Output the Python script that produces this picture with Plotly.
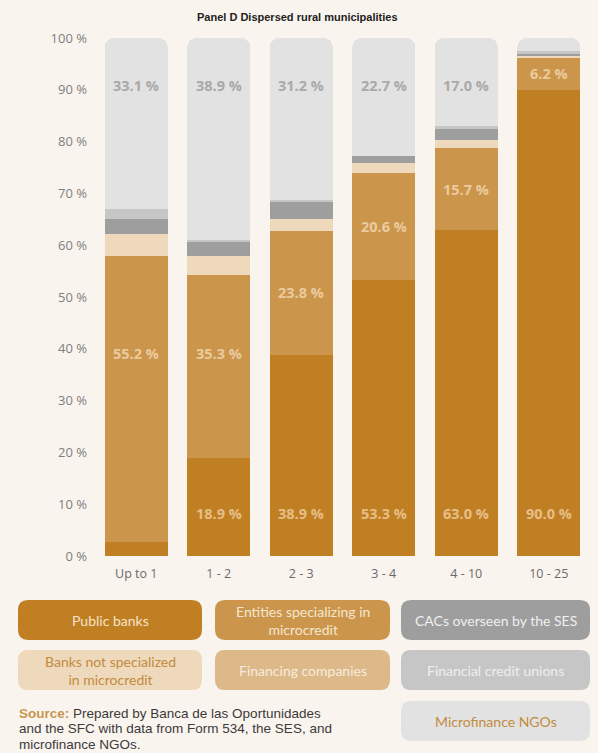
import plotly.graph_objects as go

# ---------------- data ----------------
categories = ["Up to 1", "1 - 2", "2 - 3", "3 - 4", "4 - 10", "10 - 25"]
public_banks = [2.8, 18.9, 38.9, 53.3, 63.0, 90.0]
entities_microcredit = [55.2, 35.3, 23.8, 20.6, 15.7, 6.2]
banks_not_specialized = [4.1, 3.8, 2.4, 2.0, 1.6, 0.3]
financing_companies = [0.0, 0.0, 0.0, 0.0, 0.0, 0.0]
cacs_ses = [2.9, 2.8, 3.2, 1.4, 2.1, 0.6]
credit_unions = [1.9, 0.3, 0.5, 0.0, 0.6, 0.3]
microfinance_ngos = [33.1, 38.9, 31.2, 22.7, 17.0, 2.6]
y_ticks = [0, 10, 20, 30, 40, 50, 60, 70, 80, 90, 100]
y_tick_labels = [f"{v} %" for v in y_ticks]

BG = "#FAF4EE"
C_PUB = "#C17F24"
C_ENT = "#CB964C"
C_BNS = "#EFD9BC"
C_FIN = "#DDB98A"
C_CAC = "#9E9E9F"
C_CU = "#C6C6C7"
C_NGO = "#E2E2E2"

series = [
    ("Public banks", public_banks, C_PUB),
    ("Entities specializing in microcredit", entities_microcredit, C_ENT),
    ("Banks not specialized in microcredit", banks_not_specialized, C_BNS),
    ("Financing companies", financing_companies, C_FIN),
    ("CACs overseen by the SES", cacs_ses, C_CAC),
    ("Financial credit unions", credit_unions, C_CU),
    ("Microfinance NGOs", microfinance_ngos, C_NGO),
]

fig = go.Figure()
for name, vals, col in series:
    fig.add_trace(go.Bar(
        x=categories, y=vals, name=name,
        marker=dict(color=col, line=dict(width=0)),
        showlegend=False, hoverinfo="skip",
    ))

# plot geometry (pixels)
W, H = 598, 753
L, R, T, B = 95, 8, 38, 197
PW = W - L - R
PH = H - T - B


def px(x):
    return (x - L) / PW


def py(y):
    return (H - B - y) / PH


LABEL_FONT = "Open Sans, Lato, DejaVu Sans, sans-serif"
annotations = []

# value labels
for i, c in enumerate(categories):
    v = microfinance_ngos[i]
    if v >= 10:
        annotations.append(dict(x=c, y=90.8, xref="x", yref="y", text=f"{v:.1f} %",
                                showarrow=False, xanchor="center", yanchor="middle",
                                font=dict(family=LABEL_FONT, size=14.5, color="#A9A9AA", weight="bold")))
    v = entities_microcredit[i]
    center = public_banks[i] + v / 2
    annotations.append(dict(x=c, y=max(center, 39), xref="x", yref="y", text=f"{v:.1f} %",
                            showarrow=False, xanchor="center", yanchor="middle",
                            font=dict(family=LABEL_FONT, size=14.5, color="#EACB9E", weight="bold")))
    v = public_banks[i]
    if v >= 10:
        annotations.append(dict(x=c, y=8.3, xref="x", yref="y", text=f"{v:.1f} %",
                                showarrow=False, xanchor="center", yanchor="middle",
                                font=dict(family=LABEL_FONT, size=14.5, color="#E6BE86", weight="bold")))

# title
annotations.append(dict(x=px(297), y=py(17), xref="paper", yref="paper",
                        xanchor="center", yanchor="middle",
                        text="<b>Panel D Dispersed rural municipalities</b>", showarrow=False,
                        font=dict(family="Liberation Sans Narrow, Arial Narrow, Liberation Sans, sans-serif",
                                  size=11, color="#222222")))

# legend boxes (drawn as decorative rounded rectangles)
shapes = []


def rounded(x0, y0, x1, y1, r=10):
    pts = [
        ("M", [(x0 + r, y0)]),
        ("L", [(x1 - r, y0)]),
        ("Q", [(x1, y0), (x1, y0 + r)]),
        ("L", [(x1, y1 - r)]),
        ("Q", [(x1, y1), (x1 - r, y1)]),
        ("L", [(x0 + r, y1)]),
        ("Q", [(x0, y1), (x0, y1 - r)]),
        ("L", [(x0, y0 + r)]),
        ("Q", [(x0, y0), (x0 + r, y0)]),
    ]
    s = ""
    for cmd, ps in pts:
        s += cmd + " " + " ".join(f"{px(a):.5f},{py(b):.5f}" for a, b in ps) + " "
    return s + "Z"


legend_items = [
    ("Public banks", C_PUB, "#F6E3C8", (18, 600, 202, 640)),
    ("Entities specializing in<br>microcredit", C_ENT, "#F5E6D0", (215, 600, 390, 640)),
    ("CACs overseen by the SES", C_CAC, "#EFEFEF", (401, 600, 590, 640)),
    ("Banks not specialized<br>in microcredit", C_BNS, "#C28B40", (18, 650, 202, 690)),
    ("Financing companies", C_FIN, "#F6ECDD", (215, 650, 390, 690)),
    ("Financial credit unions", C_CU, "#EFEFEF", (401, 650, 590, 690)),
    ("Microfinance NGOs", C_NGO, "#C28B40", (401, 701, 590, 741)),
]
for text, fill, tcol, (x0, y0, x1, y1) in legend_items:
    shapes.append(dict(type="path", path=rounded(x0, y0, x1, y1), xref="paper", yref="paper",
                       fillcolor=fill, line=dict(width=0), layer="below"))
    annotations.append(dict(x=px((x0 + x1) / 2), y=py((y0 + y1) / 2), xref="paper", yref="paper",
                            xanchor="center", yanchor="middle",
                            text=text, showarrow=False, align="center",
                            font=dict(family="Lato, Open Sans, sans-serif", size=14, color=tcol)))

# source note
src_lines = [
    "<span style='color:#C8964F'><b>Source:</b></span> Prepared by Banca de las Oportunidades",
    "and the SFC with data from Form 534, the SES, and",
    "microfinance NGOs.",
]
for k, line in enumerate(src_lines):
    annotations.append(dict(x=px(17), y=py(713 + 15.5 * k), xref="paper", yref="paper",
                            xanchor="left", yanchor="middle", text=line, showarrow=False,
                            font=dict(family="Liberation Sans, Arial, sans-serif", size=13.5,
                                      color="#3A3A3A")))

fig.update_layout(
    width=W, height=H,
    margin=dict(l=L, r=R, t=T, b=B),
    paper_bgcolor=BG, plot_bgcolor=BG,
    barmode="stack", bargap=0.236, barcornerradius=9,
    shapes=shapes, annotations=annotations,
    xaxis=dict(showgrid=False, zeroline=False, showline=False, ticks="",
               ticklabelstandoff=8,
               tickfont=dict(family="Open Sans, Lato, sans-serif", size=12.5, color="#6A6A6A")),
    yaxis=dict(range=[0, 100], tickvals=y_ticks, ticktext=y_tick_labels, showgrid=False,
               zeroline=False, showline=False, ticks="", ticklabelstandoff=7,
               tickfont=dict(family="Open Sans, Lato, sans-serif", size=13, color="#7E7E7E")),
)

fig.write_html("out.html")
